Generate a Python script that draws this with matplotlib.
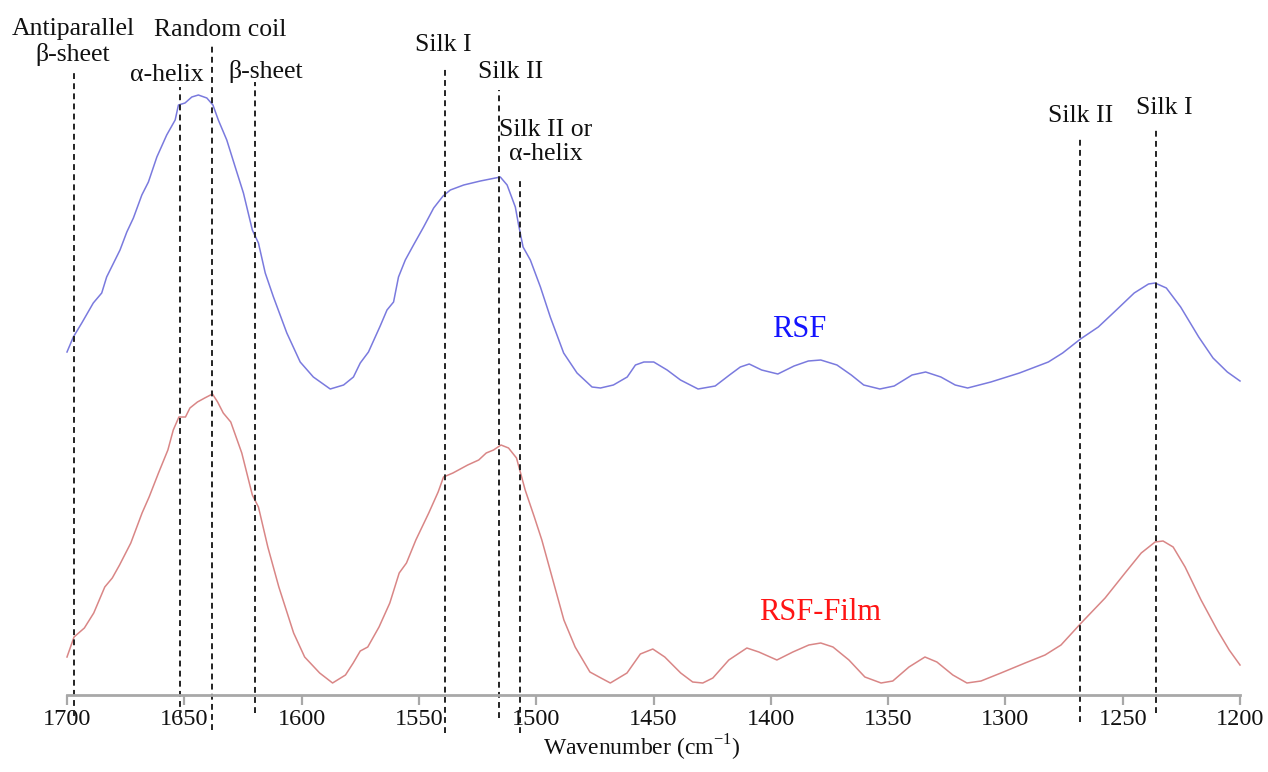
import matplotlib
matplotlib.use("Agg")
import matplotlib.pyplot as plt
import numpy as np

plt.rcParams['font.family'] = ['Liberation Serif', 'DejaVu Serif']
plt.rcParams['mathtext.fontset'] = 'custom'
plt.rcParams['mathtext.rm'] = 'Liberation Serif'

# ---------------- data ----------------
rsf_wn = [1700, 1697.3, 1693.7, 1688.8, 1685.2, 1683.1, 1677.4, 1674.5, 1671.7, 1668.1,
          1665.3, 1661.7, 1657.5, 1653.9, 1652.5, 1649.7, 1646.8, 1644.0, 1640.4, 1637.8,
          1635.5, 1631.9, 1628.3, 1624.8, 1621.0, 1618.4, 1615.5, 1612.0, 1606.3, 1600.6,
          1595.0, 1587.8, 1582.1, 1577.9, 1575.0, 1571.5, 1566.5, 1563.6, 1560.8, 1558.7,
          1555.8, 1552.3, 1548.0, 1543.7, 1539.7, 1536.6, 1530.9, 1523.8, 1517.4, 1515.3,
          1512.4, 1508.9, 1507.5, 1505.6, 1502.5, 1498.2, 1494.0, 1488.3, 1482.6, 1476.2,
          1472.6, 1467.1, 1461.2, 1457.7, 1454.1, 1449.9, 1444.2, 1438.5, 1431.0, 1423.7,
          1417.6, 1413.0, 1409.2, 1403.9, 1397.0, 1390.1, 1384.0, 1378.7, 1371.8, 1365.7,
          1360.4, 1353.5, 1347.4, 1339.8, 1334.0, 1327.5, 1321.4, 1316.1, 1306.2, 1294.0,
          1281.7, 1275.6, 1268.0, 1260.4, 1252.7, 1245.1, 1239.0, 1236.2, 1231.4, 1225.3,
          1217.6, 1211.5, 1205.4, 1200]
rsf_abs = [0.53, 0.68, 0.82, 1.02, 1.12, 1.28, 1.55, 1.73, 1.87, 2.10,
           2.23, 2.48, 2.70, 2.85, 3.00, 3.02, 3.08, 3.10, 3.07, 3.00,
           2.85, 2.65, 2.38, 2.12, 1.75, 1.62, 1.32, 1.08, 0.72, 0.43,
           0.28, 0.16, 0.20, 0.28, 0.42, 0.53, 0.79, 0.95, 1.03, 1.28,
           1.45, 1.60, 1.78, 1.97, 2.09, 2.15, 2.20, 2.24, 2.27, 2.28,
           2.20, 1.98, 1.80, 1.58, 1.45, 1.18, 0.88, 0.52, 0.32, 0.18,
           0.17, 0.20, 0.28, 0.40, 0.43, 0.43, 0.35, 0.25, 0.16, 0.19,
           0.30, 0.38, 0.41, 0.35, 0.31, 0.39, 0.44, 0.45, 0.40, 0.30,
           0.20, 0.16, 0.19, 0.30, 0.33, 0.28, 0.20, 0.17, 0.23, 0.32,
           0.43, 0.52, 0.66, 0.78, 0.95, 1.12, 1.21, 1.22, 1.17, 0.98,
           0.68, 0.47, 0.33, 0.24]

film_wn = [1700, 1697, 1692.6, 1688.6, 1683.9, 1680.7, 1677.6, 1672.8, 1668, 1665,
           1661, 1657, 1654.7, 1652.3, 1649.5, 1647.6, 1644.4, 1641.3, 1638, 1635.8,
           1633.4, 1630.2, 1625.5, 1621, 1618.4, 1614.4, 1609.7, 1603.4, 1598.7, 1592.3,
           1586.8, 1581.3, 1578, 1575, 1571.8, 1567, 1562.4, 1558.4, 1555.3, 1551.3,
           1545.8, 1541.8, 1539.5, 1535.5, 1529.2, 1524.5, 1521.3, 1518.2, 1515, 1511.8,
           1508.4, 1504.7, 1500.8, 1497.6, 1492.9, 1488.2, 1483.4, 1477.1, 1472.4, 1468.4,
           1461.3, 1455.6, 1450.3, 1445.2, 1438.4, 1433.3, 1429, 1424.7, 1417.9, 1410.2,
           1405.1, 1397.4, 1390.6, 1383.8, 1378.7, 1373.5, 1366.7, 1359.9, 1353, 1348,
           1341.1, 1334.3, 1329.2, 1322.4, 1316.4, 1310.4, 1301.9, 1291.6, 1283.1, 1276.3,
           1267.7, 1257.5, 1249, 1242.1, 1236.2, 1232.8, 1228.5, 1223.4, 1216.6, 1209.7,
           1204.6, 1200]
film_abs = [0.38, 0.58, 0.67, 0.82, 1.08, 1.17, 1.30, 1.52, 1.82, 1.98,
            2.22, 2.45, 2.65, 2.78, 2.78, 2.87, 2.93, 2.97, 3.01, 2.93,
            2.82, 2.73, 2.42, 2.00, 1.88, 1.48, 1.08, 0.62, 0.38, 0.22,
            0.12, 0.20, 0.32, 0.44, 0.48, 0.68, 0.92, 1.22, 1.32, 1.55,
            1.82, 2.03, 2.18, 2.22, 2.30, 2.35, 2.42, 2.45, 2.50, 2.47,
            2.37, 2.05, 1.78, 1.55, 1.15, 0.75, 0.48, 0.23, 0.17, 0.12,
            0.22, 0.41, 0.46, 0.38, 0.22, 0.13, 0.12, 0.17, 0.35, 0.47,
            0.43, 0.35, 0.43, 0.50, 0.52, 0.48, 0.35, 0.18, 0.12, 0.14,
            0.28, 0.38, 0.33, 0.20, 0.12, 0.14, 0.22, 0.32, 0.40, 0.50,
            0.72, 0.97, 1.22, 1.42, 1.53, 1.54, 1.48, 1.28, 0.95, 0.65,
            0.45, 0.30]

xticks = [1700, 1650, 1600, 1550, 1500, 1450, 1400, 1350, 1300, 1250, 1200]

band_wn = [1697, 1652, 1638, 1620, 1539, 1516, 1507, 1268, 1236]
band_labels = ['Antiparallel\nβ-sheet', 'α-helix', 'Random coil', 'β-sheet', 'Silk I',
               'Silk II', 'Silk II or\nα-helix', 'Silk II', 'Silk I']

# ---------------- layout / style ----------------
RSF_OFFSET = 2.9
line_top = [6.23, 6.08, 6.50, 6.13, 6.28, 6.05, 5.15, 5.57, 5.67]
line_bot = [-0.21, -0.22, -0.35, -0.18, -0.38, -0.23, -0.38, -0.27, -0.18]
label_x = [1697.4, 1657.3, 1634.7, 1615.5, 1539.6, 1511.0, 1496.1, 1267.8, 1232.4]
label_y = [6.53, 6.20, 6.65, 6.24, 6.50, 6.23, 5.53, 5.79, 5.87]

W, H = 1268, 772
fig = plt.figure(figsize=(W / 100, H / 100), dpi=100)
ax = fig.add_axes([0, 0, 1, 1])
upp = 500 / 1173.0
ax.set_xlim(1700 + 67 * upp, 1200 - 28 * upp)
ax.set_ylim(-0.77, 6.95)
ax.patch.set_alpha(0)

ax.plot(rsf_wn, np.array(rsf_abs) + RSF_OFFSET, color='#7a7ade', lw=1.1,
        solid_joinstyle='round')
ax.plot(film_wn, film_abs, color='#d98686', lw=1.1, solid_joinstyle='round')

for x, t, b in zip(band_wn, line_top, line_bot):
    ax.plot([x, x], [b, t], color='#222222', lw=1.4, ls=(0, (3.0, 2.2)), clip_on=False)

for x, y, s in zip(label_x, label_y, band_labels):
    ax.text(x, y, s, ha='center', va='center', fontsize=18.5, linespacing=1.17,
            color='#111111')

ax.text(1387.7, 3.66, 'RSF', color='#1414ff', fontsize=22, ha='center', va='center')
ax.text(1379.2, 0.82, 'RSF-Film', color='#ff1414', fontsize=22, ha='center', va='center')

for s in ['top', 'right', 'left']:
    ax.spines[s].set_visible(False)
ax.spines['bottom'].set_position(('data', 0))
ax.spines['bottom'].set_bounds(1200, 1700)
ax.spines['bottom'].set_color('#a8a8a8')
ax.spines['bottom'].set_linewidth(2.0)
ax.set_yticks([])
ax.set_xticks(xticks)
ax.set_xticklabels([str(t) for t in xticks])
ax.tick_params(axis='x', direction='out', length=7, width=1.6, color='#a8a8a8',
               labelsize=17.5, pad=3, labelcolor='#111111')
ax.text(1455, -0.53, 'Wavenumber (cm$^{\\mathregular{-1}}$)', ha='center', va='center',
        fontsize=17, color='#111111')

fig.savefig('out.png', dpi=100)
